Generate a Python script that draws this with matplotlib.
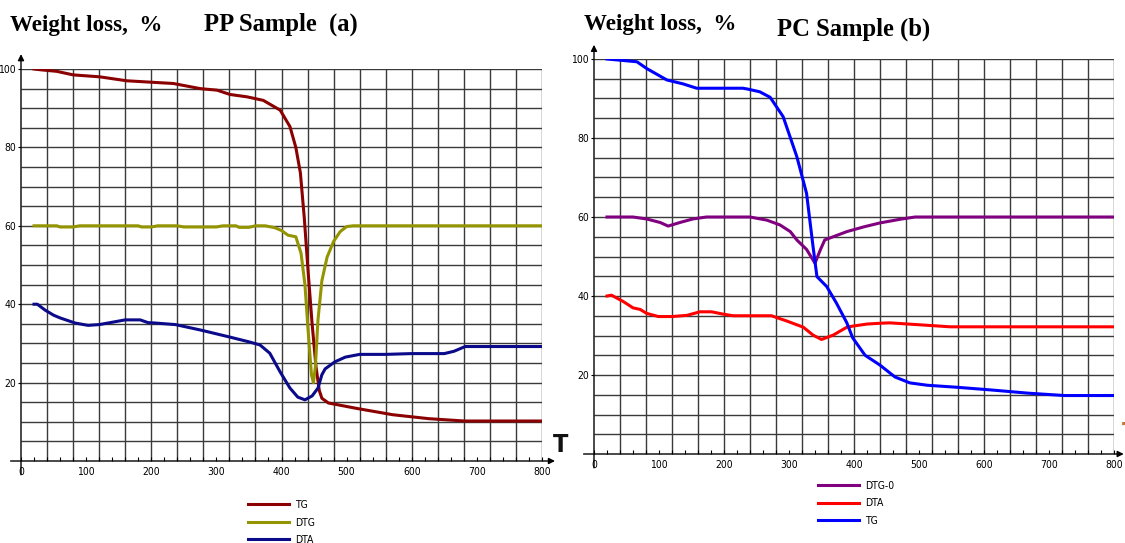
import numpy as np
import matplotlib.pyplot as plt
import matplotlib.font_manager as fm

# ---- PP sample (a) ----
pp_tg_t = [20, 30, 55, 80, 121, 162, 203, 234, 275, 301, 321, 347, 372, 398, 413,
           422, 429, 435, 441, 447, 453, 458, 462, 472, 516, 571, 626, 681, 800]
pp_tg = [100, 99.8, 99.4, 98.5, 98, 97, 96.6, 96.3, 95, 94.6, 93.5, 92.9, 92, 89.5, 85.3,
         80, 73.5, 62, 48, 35, 24, 18, 16, 14.8, 13.4, 11.8, 10.8, 10.2, 10.2]

pp_dtg_t = [20, 55, 60, 80, 90, 180, 185, 200, 210, 240, 250, 300, 310, 330, 335, 350,
            360, 375, 390, 400, 410, 422, 430, 436, 441, 446, 449, 452, 456, 462, 470,
            480, 490, 500, 510, 800]
pp_dtg = [60, 60, 59.7, 59.7, 60, 60, 59.7, 59.7, 60, 60, 59.7, 59.7, 60, 60, 59.6, 59.6,
          60, 60, 59.5, 58.8, 57.6, 57.2, 53, 45, 33, 22, 20, 24, 36, 46, 52,
          56, 58.5, 59.8, 60, 60]

pp_dta_t = [20, 25, 37, 50, 60, 83, 103, 120, 137, 160, 183, 195, 206, 237, 276, 321,
            350, 367, 382, 398, 413, 425, 436, 447, 456, 462, 467, 482, 498, 520, 560,
            600, 650, 665, 682, 800]
pp_dta = [40, 40, 38.5, 37.2, 36.5, 35.2, 34.6, 34.8, 35.3, 36, 36, 35.3, 35.2, 34.8, 33.4,
          31.6, 30.4, 29.6, 27.5, 22.7, 18.6, 16.3, 15.6, 16.6, 18.6, 22, 23.5, 25.3,
          26.5, 27.2, 27.2, 27.4, 27.4, 28, 29.2, 29.2]

# ---- PC sample (b) ----
pc_dtg_t = [20, 60, 81, 102, 114, 132, 152, 173, 225, 240, 266, 286, 302, 312, 327, 340,
            348, 355, 368, 389, 415, 440, 470, 494, 800]
pc_dtg = [60, 60, 59.5, 58.6, 57.7, 58.6, 59.5, 60, 60, 60, 59.2, 58, 56.3, 54.2, 51.8, 48.3,
          51.6, 54.2, 55, 56.3, 57.5, 58.5, 59.4, 60, 60]

pc_dta_t = [20, 27, 45, 60, 71, 81, 99, 120, 143, 163, 181, 199, 214, 273, 296, 322, 337,
            350, 368, 389, 399, 420, 440, 455, 502, 548, 800]
pc_dta = [40, 40.2, 38.6, 37, 36.6, 35.6, 34.8, 34.8, 35.1, 36, 36, 35.4, 35, 35, 33.7, 32.1,
          30.1, 29, 30.1, 32.1, 32.4, 32.9, 33.1, 33.2, 32.7, 32.2, 32.2]

pc_tg_t = [20, 66, 81, 112, 137, 158, 229, 236, 255, 271, 291, 312, 327, 337, 343, 358, 373,
           389, 398, 417, 440, 463, 486, 513, 558, 612, 668, 724, 800]
pc_tg = [100, 99.3, 97.6, 94.7, 93.7, 92.6, 92.6, 92.4, 91.7, 90.3, 85.4, 75.3, 66, 52.5,
         44.9, 42.4, 38.2, 33.2, 29.4, 25, 22.5, 19.5, 18, 17.4, 16.9, 16.2, 15.4, 14.8, 14.8]

W, H = 1125, 543


def fx(px):
    return px / W


def fy(py):
    return 1 - py / H


# look for a narrow sans font, the labels of the original are condensed
def find_narrow(bold=False):
    best = None
    for f in fm.fontManager.ttflist:
        narrow = ('Narrow' in f.name or 'Condensed' in f.name
                  or f.stretch in ('condensed', 'semi-condensed', 'extra-condensed'))
        if not narrow or f.style != 'normal':
            continue
        w = f.weight if isinstance(f.weight, int) else (700 if 'bold' in str(f.weight) else 400)
        if (w >= 600) != bold:
            continue
        rank = 0 if 'Liberation' in f.name else (1 if 'DejaVu' in f.name else 2)
        if best is None or rank < best[0]:
            best = (rank, f.fname)
    return best[1] if best else None


narrow_path = find_narrow()
narrow_bold_path = find_narrow(bold=True)
if narrow_path:
    tick_fp = fm.FontProperties(fname=narrow_path, size=7.5)
else:
    tick_fp = fm.FontProperties(family=['Liberation Sans', 'DejaVu Sans'], size=6.8)
if narrow_bold_path:
    t_fp = fm.FontProperties(fname=narrow_bold_path, size=18)
else:
    t_fp = fm.FontProperties(family=['Liberation Sans', 'DejaVu Sans'], weight='bold', size=15.5)


def setup_panel(ax, x_tip, y_tip):
    ax.set_xlim(0, 800)
    ax.set_ylim(0, 100)
    for s in ax.spines.values():
        s.set_visible(False)
    ax.vlines(np.arange(40, 801, 40), 0, 100, colors='#3a3a3a', lw=1.0, zorder=1)
    ax.hlines(np.arange(5, 101, 5), 0, 800, colors='#3a3a3a', lw=1.0, zorder=1)
    # axis lines with arrows
    ax.annotate('', xy=(x_tip, 0), xytext=(-16, 0),
                arrowprops=dict(arrowstyle='-|>', lw=1.0, color='black',
                                mutation_scale=9, shrinkA=0, shrinkB=0),
                annotation_clip=False)
    ax.annotate('', xy=(0, y_tip), xytext=(0, -3.5),
                arrowprops=dict(arrowstyle='-|>', lw=1.0, color='black',
                                mutation_scale=9, shrinkA=0, shrinkB=0),
                annotation_clip=False)
    ax.set_xticks(np.arange(0, 801, 100))
    ax.set_xticks(np.arange(0, 801, 20), minor=True)
    ax.set_yticks([20, 40, 60, 80, 100])
    ax.tick_params(axis='x', which='both', direction='in', length=3, width=0.8, pad=4)
    ax.tick_params(axis='y', direction='out', length=2, width=0.8, pad=1.5)
    for lab in ax.get_xticklabels() + ax.get_yticklabels():
        lab.set_fontproperties(tick_fp)


fig = plt.figure(figsize=(W / 100, H / 100), dpi=100)

ax1 = fig.add_axes([fx(21), fy(461), 521 / W, 392 / H])
setup_panel(ax1, 820, 103.8)
ax1.plot(pp_tg_t, pp_tg, color='#8b0000', lw=2.2, label='TG', zorder=3)
ax1.plot(pp_dtg_t, pp_dtg, color='#949400', lw=2.2, label='DTG', zorder=3)
ax1.plot(pp_dta_t, pp_dta, color='#0a0a8a', lw=2.2, label='DTA', zorder=3)
ax1.legend(loc='upper left', bbox_to_anchor=(fx(248), fy(500)), bbox_transform=fig.transFigure,
           frameon=False, prop=tick_fp, handlelength=3.9,
           handletextpad=0.6, labelspacing=0.72, borderpad=0, borderaxespad=0)

ax2 = fig.add_axes([fx(594), fy(454), 520 / W, 395 / H])
setup_panel(ax2, 815, 103.6)
ax2.plot(pc_dtg_t, pc_dtg, color='#800080', lw=2.2, label='DTG-0', zorder=3)
ax2.plot(pc_dta_t, pc_dta, color='#ff0000', lw=2.2, label='DTA', zorder=3)
ax2.plot(pc_tg_t, pc_tg, color='#0000ff', lw=2.2, label='TG', zorder=3)
ax2.legend(loc='upper left', bbox_to_anchor=(fx(818), fy(481)), bbox_transform=fig.transFigure,
           frameon=False, prop=tick_fp, handlelength=3.9,
           handletextpad=0.6, labelspacing=0.72, borderpad=0, borderaxespad=0)

serif = ['Liberation Serif', 'DejaVu Serif']
fig.text(fx(10), fy(31), 'Weight loss,  %', family=serif, weight='bold', fontsize=16.6,
         va='baseline')
fig.text(fx(204), fy(31), 'PP Sample  (a)', family=serif, weight='bold', fontsize=17.7,
         va='baseline')
fig.text(fx(584), fy(30), 'Weight loss,  %', family=serif, weight='bold', fontsize=16.6,
         va='baseline')
fig.text(fx(777), fy(36), 'PC Sample (b)', family=serif, weight='bold', fontsize=17.7,
         va='baseline')

# axis name T (right one is cut by the image edge)
fig.text(fx(553), fy(452), 'T', fontproperties=t_fp, color='#111111', va='baseline')
fig.text(fx(1122), fy(440), 'T', fontproperties=t_fp, color='#c87533', va='baseline')

fig.savefig('out.png', dpi=100)
